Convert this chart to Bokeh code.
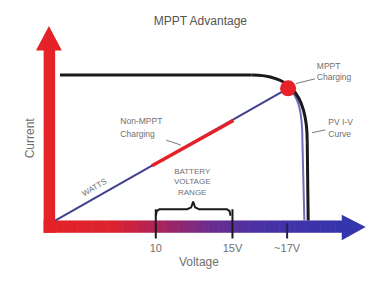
import numpy as np
from bokeh.plotting import figure
from bokeh.models import Range1d
from bokeh.core.properties import value
from bokeh.embed import file_html
from bokeh.resources import INLINE

# ---- diagram geometry (schematic units, y grows downward) ----
origin = (57, 233)
mppt_point = (300, 93)

# I-V curve (black): flat part then knee
iv_flat_x = [62, 262]
iv_flat_y = [79, 79]
iv_knee = dict(x0=[262], y0=[79], cx0=[298], cy0=[79], cx1=[320], cy1=[95], x1=[320], y1=[150])
iv_drop_x = [320, 321]
iv_drop_y = [150, 233]

# power / charging line (blue) and non-MPPT segment (red)
watts_x = [origin[0], mppt_point[0]]
watts_y = [origin[1], mppt_point[1]]
non_mppt_x = [158, 243]
non_mppt_y = [175, 127]
pv_blue = dict(x0=[300], y0=[93], cx0=[310], cy0=[100], cx1=[315], cy1=[115], x1=[315], y1=[150])
pv_blue_drop_x = [315, 317]
pv_blue_drop_y = [150, 233]

# axis tick positions and labels
tick_x = [162, 242, 299]
tick_labels = ["10", "15V", "~17V"]

# gradient stops for voltage axis
grad_pos = [45, 120, 170, 220, 270, 357]
grad_col = [(229, 34, 40), (220, 34, 48), (164, 37, 96), (106, 45, 144), (74, 50, 165), (53, 53, 172)]

p = figure(width=370, height=271, output_backend="svg", toolbar_location=None,
           x_range=Range1d(0, 386), y_range=Range1d(287, 0), min_border=0)
p.axis.visible = False
p.grid.visible = False
p.outline_line_color = None
p.background_fill_color = "white"
p.border_fill_color = "white"

FONT = value("Liberation Sans")
GRAY = "#707070"

# ---- voltage axis: gradient shaft ----
n = 80
edges = np.linspace(grad_pos[0], grad_pos[-1], n + 1)
mids = (edges[:-1] + edges[1:]) / 2
cols = []
for m in mids:
    r = np.interp(m, grad_pos, [c[0] for c in grad_col])
    g = np.interp(m, grad_pos, [c[1] for c in grad_col])
    b = np.interp(m, grad_pos, [c[2] for c in grad_col])
    cols.append("#%02x%02x%02x" % (int(r), int(g), int(b)))
p.quad(left=edges[:-1], right=edges[1:] + 0.6, top=[233] * n, bottom=[246] * n,
       fill_color=cols, line_color=None)
p.patch([356, 381, 356], [227, 240, 254], fill_color="#3535ac", line_color=None)

# ---- current axis: red arrow ----
p.quad(left=[45], right=[57], top=[50], bottom=[246], fill_color="#e52228", line_color=None)
p.patch([50.5, 37, 64], [27, 53, 53], fill_color="#e52228", line_color=None)

# ---- ticks and brace ----
p.segment(x0=tick_x[:2], y0=[221, 221], x1=tick_x[:2], y1=[252, 252], line_color="#1a1a1a", line_width=2)
p.segment(x0=[tick_x[2]], y0=[236], x1=[tick_x[2]], y1=[252], line_color="#22225a", line_width=2)
brace_x = [162, 163, 166, 195, 199, 201, 203, 207, 236, 239, 240]
brace_y = [228, 223, 221, 221, 219, 213, 219, 221, 221, 223, 228]
p.line(brace_x, brace_y, line_color="#1a1a1a", line_width=2)

# ---- curves ----
p.line(watts_x, watts_y, line_color="#40408f", line_width=2)
p.line(non_mppt_x, non_mppt_y, line_color="#e52228", line_width=3.5)
p.bezier(**pv_blue, line_color="#6d6db8", line_width=2)
p.line(pv_blue_drop_x, pv_blue_drop_y, line_color="#6d6db8", line_width=2)
p.line(iv_flat_x, iv_flat_y, line_color="#1a1a1a", line_width=3)
p.bezier(**iv_knee, line_color="#1a1a1a", line_width=3)
p.line(iv_drop_x, iv_drop_y, line_color="#1a1a1a", line_width=3)
p.scatter([mppt_point[0]], [mppt_point[1]], size=16, fill_color="#e8202a", line_color=None)

# ---- leader lines ----
p.segment(x0=[308, 325, 173], y0=[88, 140, 148], x1=[328, 339, 188], y1=[83, 137, 153],
          line_color="#777777", line_width=1)

# ---- texts ----
def label(x, y, txt, size, align="left", angle=0.0, color=GRAY):
    p.text(x=[x], y=[y], text=[txt], angle=[angle], text_font=FONT, text_font_size=size,
           text_color=color, text_align=align, text_baseline="middle")

label(209, 22, "MPPT Advantage", "12px", "center", color="#555555")
label(330, 69, "MPPT", "8.5px")
label(330, 81, "Charging", "8.5px")
label(342, 129, "PV I-V", "8.5px")
label(342, 141, "Curve", "8.5px")
label(125, 128, "Non-MPPT", "8.5px")
label(125, 141, "Charging", "8.5px")
for yy, tt in zip([181, 192, 203], ["BATTERY", "VOLTAGE", "RANGE"]):
    label(200, yy, tt, "8px", "center")
label(98, 198, "WATTS", "8px", "center", angle=float(np.arctan2(140, 243)))
label(31, 146, "Current", "12px", "center", angle=float(np.pi / 2))
for xx, tt in zip(tick_x, tick_labels):
    label(xx, 262, tt, "11px", "center")
label(207, 277, "Voltage", "12px", "center")

open("out.html", "w").write(file_html(p, INLINE))
